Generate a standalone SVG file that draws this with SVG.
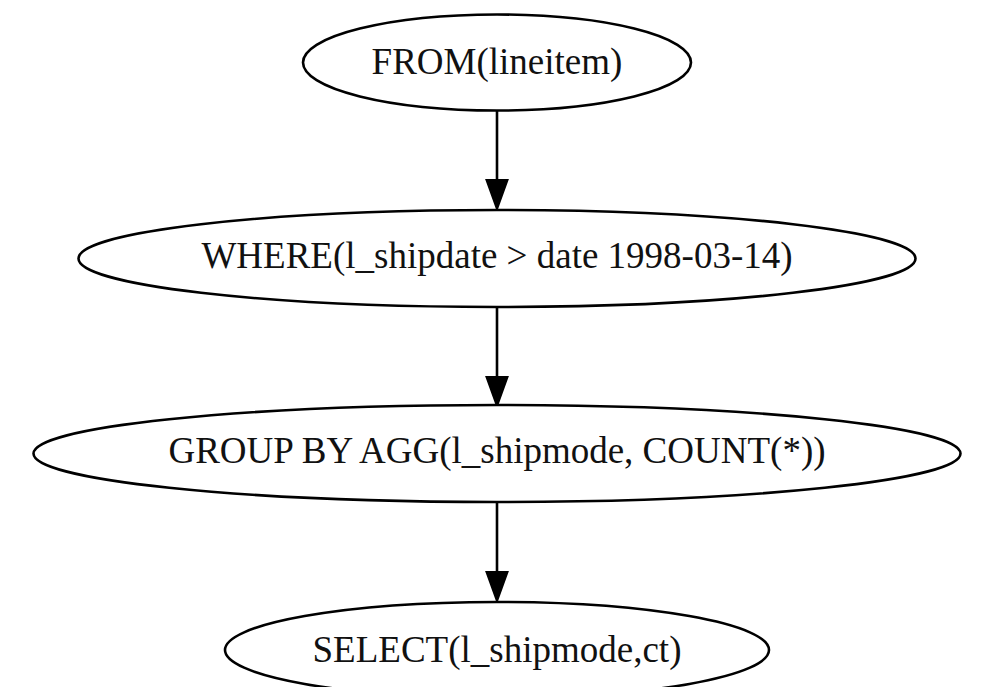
<svg xmlns="http://www.w3.org/2000/svg" width="983" height="687" viewBox="0 0 983 687">
<style>
.node ellipse{fill:#fff;stroke:#000;stroke-width:2.6}
.node text{font-family:"Liberation Serif","Times New Roman",serif;font-size:37px;fill:#111;text-anchor:middle}
.edge{stroke:#000;stroke-width:2.6;fill:none}
.head{fill:#000;stroke:#000;stroke-width:2}
</style>
<rect width="983" height="687" fill="#fff"/>
<g id="edges">
<line class="edge" x1="497" y1="110" x2="497" y2="182"/>
<polygon class="head" points="486.5,180 507.5,180 497,209"/>
<line class="edge" x1="497" y1="307" x2="497" y2="379"/>
<polygon class="head" points="486.5,377 507.5,377 497,406"/>
<line class="edge" x1="497" y1="502" x2="497" y2="574"/>
<polygon class="head" points="486.5,572 507.5,572 497,601"/>
</g>
<g id="from" class="node">
<ellipse cx="497" cy="62.5" rx="194" ry="48"/>
<text x="497" y="74">FROM(lineitem)</text>
</g>
<g id="where" class="node">
<ellipse cx="497" cy="258.5" rx="418.5" ry="48.5"/>
<text x="497" y="268">WHERE(l_shipdate &gt; date 1998-03-14)</text>
</g>
<g id="groupby" class="node">
<ellipse cx="497" cy="453.5" rx="463.5" ry="48.5"/>
<text x="497" y="463">GROUP BY AGG(l_shipmode, COUNT(*))</text>
</g>
<g id="select" class="node">
<ellipse cx="497" cy="650" rx="272" ry="48"/>
<text x="497" y="662">SELECT(l_shipmode,ct)</text>
</g>
</svg>
